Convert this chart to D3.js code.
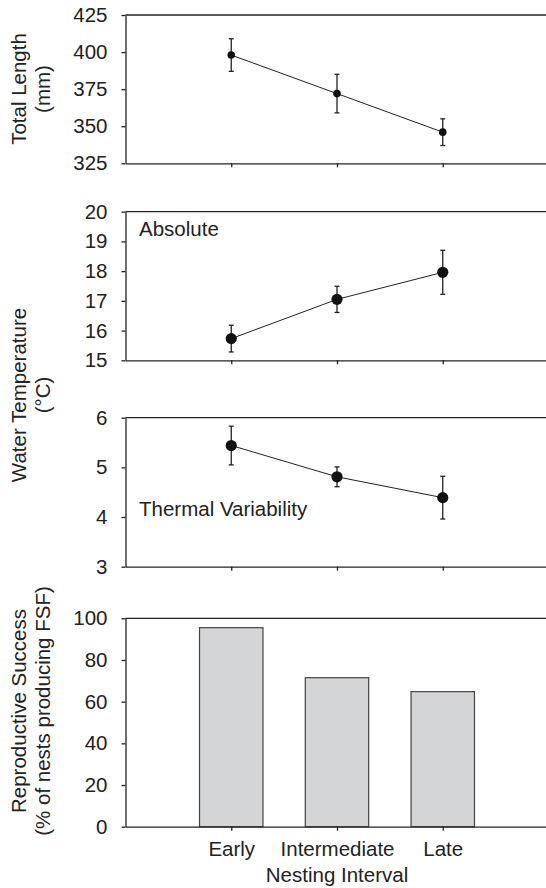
<!DOCTYPE html>
<html><head><meta charset="utf-8">
<script src="https://cdn.jsdelivr.net/npm/d3@7"></script>
<style>
body{margin:0;background:#fff}
text{font-family:"Liberation Sans",Arial,Helvetica,sans-serif;fill:#222}
</style>
</head><body><svg id="c" width="546" height="888"></svg>
<script>
// ---- data ----
const categories = ["Early", "Intermediate", "Late"];
const lengthMean = [398, 372, 346];
const lengthErr = [11, 13, 9];
const absTempMean = [15.73, 17.05, 17.96];
const absTempErr = [0.45, 0.44, 0.74];
const varTempMean = [5.44, 4.81, 4.39];
const varTempErr = [0.39, 0.20, 0.43];
const successPct = [95.5, 71.5, 64.8];
const lengthTicks = [325, 350, 375, 400, 425];
const absTicks = [15, 16, 17, 18, 19, 20];
const varTicks = [3, 4, 5, 6];
const successTicks = [0, 20, 40, 60, 80, 100];

const svg = d3.select("#c");
const FS = 20.5;
const ink = "#222";

const x = d3.scaleLinear().domain([0, 4]).range([125.5, 548.5]);
const pos = categories.map((c, i) => i + 1);

function frame(y, ticks, labels) {
  const g = svg.append("g");
  // left axis
  const ya = g.append("g").attr("transform", `translate(${x(0)},0)`)
    .call(d3.axisLeft(y).tickValues(ticks).tickSize(4).tickSizeOuter(0).tickPadding(14).tickFormat(d3.format("d")));
  // bottom axis
  const xa = g.append("g").attr("transform", `translate(0,${y.range()[0]})`)
    .call(d3.axisBottom(x).tickValues(pos).tickSize(4).tickSizeOuter(0).tickPadding(11)
      .tickFormat(labels ? (d => categories[d - 1]) : () => ""));
  // top border
  g.append("line").attr("x1", x(0)).attr("x2", x(4))
    .attr("y1", y.range()[1]).attr("y2", y.range()[1])
    .attr("stroke", ink).attr("stroke-width", 1.3);
  [ya, xa].forEach(a => {
    a.selectAll("path,line").attr("stroke", ink).attr("stroke-width", 1.3);
    a.selectAll("text").attr("font-size", FS).attr("fill", ink)
      .style("font-family", '"Liberation Sans",Arial,sans-serif');
  });
  return g;
}

function series(y, mean, err, r) {
  const g = svg.append("g");
  const line = d3.line().x((d, i) => x(pos[i])).y(d => y(d));
  g.append("path").attr("d", line(mean)).attr("fill", "none").attr("stroke", ink).attr("stroke-width", 1);
  mean.forEach((m, i) => {
    const cx = x(pos[i]);
    g.append("line").attr("x1", cx).attr("x2", cx).attr("y1", y(m - err[i])).attr("y2", y(m + err[i]))
      .attr("stroke", ink).attr("stroke-width", 1.3);
    [m - err[i], m + err[i]].forEach(v => {
      g.append("line").attr("x1", cx - 2.5).attr("x2", cx + 2.5).attr("y1", y(v)).attr("y2", y(v))
        .attr("stroke", ink).attr("stroke-width", 1.3);
    });
    g.append("circle").attr("cx", cx).attr("cy", y(m)).attr("r", r).attr("fill", "#111");
  });
}

function vlabel(cx, cy, lines) {
  lines.forEach((t, i) => {
    svg.append("text").attr("transform", `translate(${cx + i * 24},${cy}) rotate(-90)`)
      .attr("text-anchor", "middle").attr("font-size", FS).text(t);
  });
}

// Panel 1: total length
const y1 = d3.scaleLinear().domain([325, 425]).range([163.3, 15]);
frame(y1, lengthTicks, false);
series(y1, lengthMean, lengthErr, 3.8);
vlabel(26, 89, ["Total Length", "(mm)"]);

// Panel 2: absolute temperature
const y2 = d3.scaleLinear().domain([15, 20]).range([360.3, 211.7]);
frame(y2, absTicks, false);
series(y2, absTempMean, absTempErr, 5.6);
svg.append("text").attr("x", 139).attr("y", 236).attr("font-size", FS).text("Absolute");

// Panel 3: thermal variability
const y3 = d3.scaleLinear().domain([3, 6]).range([566.7, 417.7]);
frame(y3, varTicks, false);
series(y3, varTempMean, varTempErr, 5.6);
svg.append("text").attr("x", 139).attr("y", 515.5).attr("font-size", FS).text("Thermal Variability");
vlabel(26, 395, ["Water Temperature", "(°C)"]);

// Panel 4: reproductive success
const y4 = d3.scaleLinear().domain([0, 100]).range([826.7, 618.3]);
const bw = x(0.6) - x(0);
svg.append("g").selectAll("rect").data(successPct).join("rect")
  .attr("x", (d, i) => x(pos[i]) - bw / 2).attr("width", bw)
  .attr("y", d => y4(d)).attr("height", d => y4(0) - y4(d))
  .attr("fill", "#d4d5d7").attr("stroke", "#444").attr("stroke-width", 1.2);
frame(y4, successTicks, true);
vlabel(26, 711, ["Reproductive Success", "(% of nests producing FSF)"]);
svg.append("text").attr("x", x(2)).attr("y", 882).attr("text-anchor", "middle")
  .attr("font-size", FS).text("Nesting Interval");
</script></body></html>
